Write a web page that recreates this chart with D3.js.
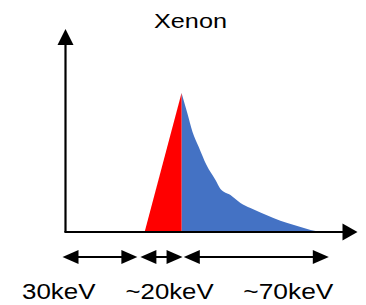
<!DOCTYPE html>
<html>
<head>
<meta charset="utf-8">
<script src="https://cdn.jsdelivr.net/npm/d3@7"></script>
<style>
  body { margin: 0; background: #fff; }
  text { font-family: "Liberation Sans", Arial, sans-serif; fill: #000; }
</style>
</head>
<body>
<svg id="mysvg" width="366" height="305"></svg>
<script>
// energy (keV-ish units) and counts
const redEnergy = [31.7, 46.5, 46.5];
const redCounts = [0, 68.5, 0];

const blueEnergy = [46.5, 48.8, 50.9, 53.4, 56.5, 60.1, 62.1, 66.1, 70.1, 74.1, 78.1, 83.3, 88.9, 94.2, 98.2, 102.2];
const blueCounts = [68.5, 58.6, 49.3, 41.9, 33.0, 25.6, 21.2, 18.2, 14.3, 11.8, 9.6, 6.9, 4.4, 2.5, 1.0, 0];

// bands shown under the axis
const bandStart = [-1.2, 30, 47.4];
const bandEnd = [28.8, 46.9, 105.5];
const bandLabels = ['30keV', '~20keV', '~70keV'];
const labelAt = [-2.7, 41.7, 89.3];

const title = 'Xenon';

const svg = d3.select('#mysvg');

// scales
const x = d3.scaleLinear().domain([0, 117]).range([65.5, 357.5]);
const y = d3.scaleLinear().domain([0, 100]).range([232, 29]);

const area = d3.area()
  .x(d => x(d[0]))
  .y0(y(0))
  .y1(d => y(d[1]));

// blue tail
svg.append('path')
  .datum(d3.zip(blueEnergy, blueCounts))
  .attr('fill', '#4472C4')
  .attr('d', area.curve(d3.curveMonotoneX));

// red rising edge
svg.append('path')
  .datum(d3.zip(redEnergy, redCounts))
  .attr('fill', '#FF0000')
  .attr('d', d3.line().x(d => x(d[0])).y(d => y(d[1]))(d3.zip(redEnergy, redCounts)) + 'Z');

// arrow head helper: tip at (tx,ty), pointing in direction angle (radians)
function head(g, tx, ty, ang, len, half) {
  const bx = tx - len * Math.cos(ang), by = ty - len * Math.sin(ang);
  const px = -Math.sin(ang) * half, py = Math.cos(ang) * half;
  g.append('path')
    .attr('d', `M${tx},${ty}L${bx + px},${by + py}L${bx - px},${by - py}Z`)
    .attr('fill', '#000');
}

// axes
const axes = svg.append('g');
axes.append('line')
  .attr('x1', x(0)).attr('y1', y(0))
  .attr('x2', x(0)).attr('y2', y(100) + 14)
  .attr('stroke', '#000').attr('stroke-width', 2.2);
head(axes, x(0), y(100), -Math.PI / 2, 16, 8);

axes.append('line')
  .attr('x1', x(0) - 1.1).attr('y1', y(0))
  .attr('x2', x(117) - 13).attr('y2', y(0))
  .attr('stroke', '#000').attr('stroke-width', 2.2);
head(axes, x(117), y(0), 0, 15, 8.5);

// band arrows
const bandY = 257;
const bands = svg.append('g');
bandStart.forEach((s, i) => {
  const a = x(s), b = x(bandEnd[i]);
  bands.append('line')
    .attr('x1', a + 10).attr('y1', bandY)
    .attr('x2', b - 10).attr('y2', bandY)
    .attr('stroke', '#000').attr('stroke-width', 2);
  head(bands, a, bandY, Math.PI, 16, 7);
  head(bands, b, bandY, 0, 16, 7);
});

// band labels
bands.selectAll('.band-label')
  .data(bandLabels)
  .join('text')
  .attr('class', 'band-label')
  .attr('x', (d, i) => x(labelAt[i]))
  .attr('y', 299.3)
  .attr('text-anchor', 'middle')
  .attr('font-size', '22.5px')
  .attr('textLength', (d, i) => [73.5, 88, 90][i])
  .attr('lengthAdjust', 'spacingAndGlyphs')
  .text(d => d);

// title
svg.append('text')
  .attr('x', 190.5)
  .attr('y', 28.3)
  .attr('text-anchor', 'middle')
  .attr('font-size', '20px')
  .attr('textLength', 73)
  .attr('lengthAdjust', 'spacingAndGlyphs')
  .text(title);
</script>
</body>
</html>
